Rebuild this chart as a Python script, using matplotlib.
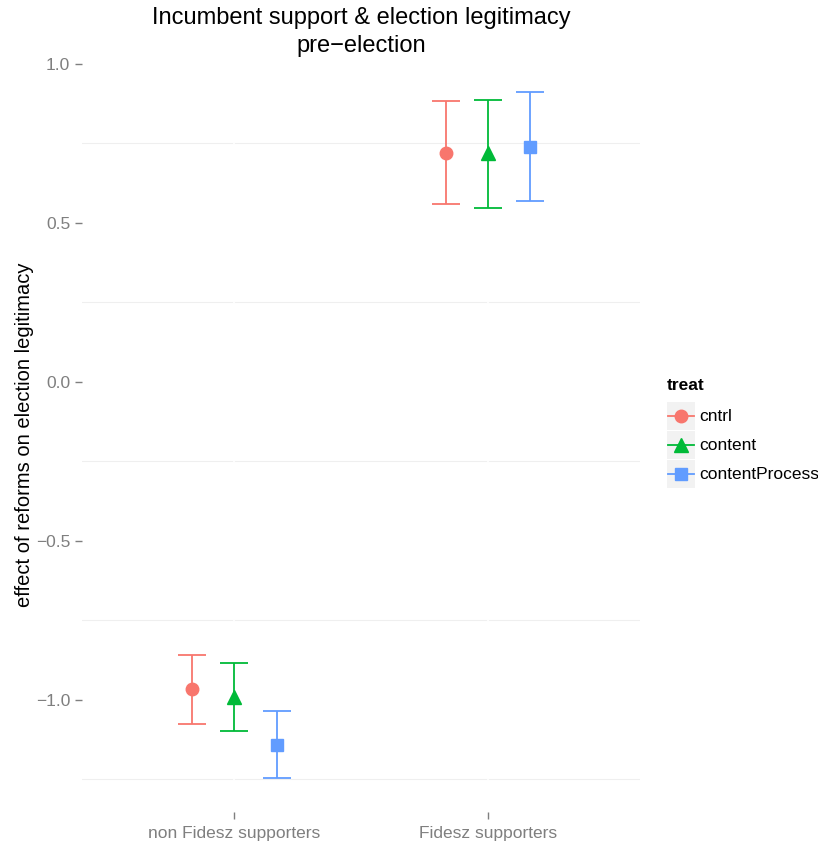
import numpy as np
import matplotlib
matplotlib.use("Agg")
import matplotlib.pyplot as plt
from matplotlib.lines import Line2D
from matplotlib.patches import Rectangle
from matplotlib.legend_handler import HandlerBase

plt.rcParams['font.family'] = ['Liberation Sans', 'DejaVu Sans']

# data
groups = ['non Fidesz supporters', 'Fidesz supporters']
treats = ['cntrl', 'content', 'contentProcess']
colors = ['#F8766D', '#00BA38', '#619CFF']
markers = ['o', '^', 's']
est = {'cntrl': [-0.965, 0.720], 'content': [-0.99, 0.718], 'contentProcess': [-1.142, 0.739]}
lower = {'cntrl': [-1.075, 0.560], 'content': [-1.097, 0.547], 'contentProcess': [-1.245, 0.569]}
upper = {'cntrl': [-0.858, 0.884], 'content': [-0.884, 0.887], 'contentProcess': [-1.035, 0.912]}

W, H = 818, 846
fig = plt.figure(figsize=(W / 100, H / 100), dpi=100)
ax = fig.add_axes([82 / W, 34 / H, 558 / W, 754 / H])

x = np.arange(1, len(groups) + 1)
dodge = [-0.166, 0.0, 0.168]
msizes = [9, 10, 9]
for i, t in enumerate(treats):
    xs = x + dodge[i]
    y = np.array(est[t])
    yerr = [y - np.array(lower[t]), np.array(upper[t]) - y]
    ax.errorbar(xs, y, yerr=yerr, fmt='none', ecolor=colors[i], elinewidth=1.3,
                capsize=10, capthick=1.3, zorder=3)
    ax.plot(xs, y, linestyle='none', marker=markers[i], color=colors[i],
            markersize=msizes[i], zorder=4)

ax.set_xlim(0.4, 2.6)
ax.set_ylim(-1.353, 1.018)
ax.set_xticks(x)
ax.set_xticklabels(groups)
ax.set_yticks([-1.0, -0.5, 0.0, 0.5, 1.0])
ax.set_yticklabels(['\u22121.0', '\u22120.5', '0.0', '0.5', '1.0'])

# ggplot-like blank theme: minor grid light gray, major grid white
for v in [-1.25, -0.75, -0.25, 0.25, 0.75]:
    ax.axhline(v, color='#EFEFEF', linewidth=0.8, zorder=0)
for v in [-1.0, -0.5, 0.0, 0.5, 1.0]:
    ax.axhline(v, color='white', linewidth=1.2, zorder=1)
for v in x:
    ax.axvline(v, color='white', linewidth=1.2, zorder=1)
for s in ax.spines.values():
    s.set_visible(False)
ax.tick_params(axis='both', colors='#7F7F7F', labelcolor='#7F7F7F', labelsize=12.5,
               length=5, width=1)
ax.tick_params(axis='x', pad=5)

ax.set_ylabel('effect of reforms on election legitimacy', fontsize=14.5, labelpad=1)
fig.text((82 + 279) / W, 1 - 32 / H, 'Incumbent support & election legitimacy\npre\u2212election',
         fontsize=17, ha='center', va='center', linespacing=1.3, multialignment='center')


class KeyHandler(HandlerBase):
    def __init__(self, marker, color, ms):
        super().__init__()
        self.marker, self.color, self.ms = marker, color, ms

    def create_artists(self, legend, orig_handle, xdescent, ydescent, width, height,
                       fontsize, trans):
        bg = Rectangle((-xdescent, -ydescent), width, height, facecolor='#F2F2F2',
                       edgecolor='none', transform=trans)
        ln = Line2D([-xdescent + 1, -xdescent + width - 1], [height / 2 - ydescent] * 2,
                    color=self.color, linewidth=1.3, transform=trans)
        mk = Line2D([-xdescent + width / 2], [height / 2 - ydescent], marker=self.marker,
                    color=self.color, markersize=self.ms, linestyle='none', transform=trans)
        return [bg, ln, mk]


handles = [Line2D([], []) for _ in treats]
hmap = {h: KeyHandler(markers[i], colors[i], msizes[i]) for i, h in enumerate(handles)}
fs = 12.5
leg = fig.legend(handles, treats, handler_map=hmap, loc='upper left',
                 bbox_to_anchor=(667 / W, 1 - 378 / H), frameon=False, fontsize=fs,
                 title='treat', title_fontproperties={'weight': 'bold', 'size': fs},
                 handlelength=1.61, handleheight=2.1, handletextpad=0.25,
                 labelspacing=0.06, alignment='left', borderaxespad=0, borderpad=0)
# extra gap between legend title and keys (in points)
leg._legend_box.sep = 6.5

fig.savefig('out.png', dpi=100)
